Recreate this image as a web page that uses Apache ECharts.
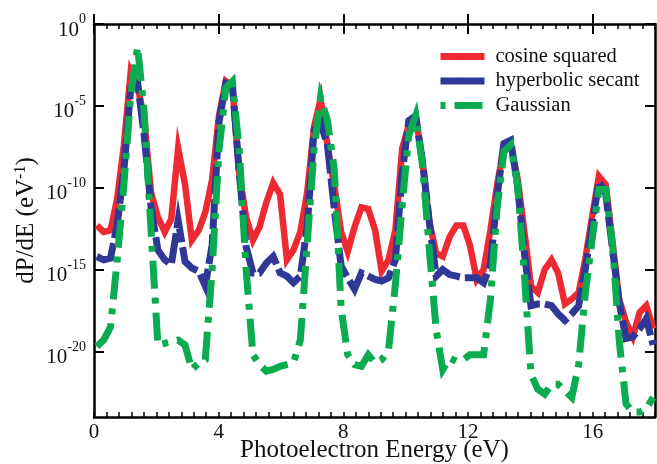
<!DOCTYPE html>
<html>
<head>
<meta charset="utf-8">
<script src="https://cdn.jsdelivr.net/npm/echarts@6/dist/echarts.min.js"></script>
<style>
  html, body { margin: 0; padding: 0; background: #fff; }
  #chart { width: 657px; height: 464px; }
</style>
</head>
<body>
<div id="chart"></div>
<script>
// photoelectron energy grid (eV)
var energy = [
  0.09, 0.31, 0.53, 0.74, 0.96, 1.18, 1.40, 1.61, 1.83, 2.05,
  2.27, 2.48, 2.70, 2.92, 3.14, 3.36, 3.57, 3.79, 4.01, 4.23,
  4.44, 4.66, 4.88, 5.10, 5.31, 5.53, 5.75, 5.97, 6.19, 6.40,
  6.62, 6.84, 7.06, 7.27, 7.49, 7.71, 7.93, 8.14, 8.36, 8.58,
  8.80, 9.02, 9.23, 9.45, 9.67, 9.89, 10.10, 10.32, 10.54, 10.76,
  10.98, 11.19, 11.41, 11.63, 11.85, 12.06, 12.28, 12.50, 12.72, 12.93,
  13.15, 13.37, 13.59, 13.81, 14.02, 14.24, 14.46, 14.68, 14.89, 15.11,
  15.33, 15.55, 15.76, 15.98, 16.20, 16.42, 16.64, 16.85, 17.07, 17.29,
  17.51, 17.72, 17.94
];

// log10 of dP/dE for each pulse envelope
var cosineSquared = [
  -12.3, -12.7, -12.6, -10.7, -7.4, -2.9, -3.8, -5.8, -10.3, -11.8,
  -12.7, -11.9, -7.6, -9.8, -13.2, -12.6, -11.5, -9.5, -5.6, -3.5,
  -3.8, -9.1, -11.8, -13.2, -12.4, -10.9, -9.7, -10.4, -14.4, -13.8,
  -12.7, -10.3, -6.3, -4.6, -7.4, -9.9, -12.7, -13.9, -12.4, -11.2,
  -11.3, -12.6, -15.1, -14.4, -12.6, -7.6, -6.2, -5.6, -8.4, -12.1,
  -14.0, -14.2, -13.0, -12.3, -12.3, -13.5, -15.6, -15.0, -12.6, -9.9,
  -7.5, -7.4, -9.4, -12.7, -16.0, -16.4, -15.0, -14.4, -15.2, -17.1,
  -16.8, -16.4, -14.4, -11.8, -9.3, -9.8, -13.4, -16.8, -18.2, -19.1,
  -17.6, -17.2, -18.6
];

var hyperbolicSecant = [
  -14.2, -14.4, -14.3, -12.3, -8.9, -3.9, -3.6, -6.8, -11.2, -13.8,
  -14.4, -14.7, -12.0, -14.5, -14.9, -15.1, -16.0, -13.5, -6.0, -3.6,
  -3.7, -9.1, -13.6, -15.2, -15.2, -14.6, -14.2, -15.2, -15.4, -15.8,
  -15.4, -12.4, -6.5, -6.0, -7.4, -11.3, -14.8, -15.5, -16.2, -15.2,
  -15.4, -15.6, -15.7, -15.5, -14.4, -9.1, -5.9, -5.6, -8.4, -12.1,
  -15.4, -15.0, -15.3, -15.4, -15.5, -15.5, -15.5, -15.8, -14.7, -10.6,
  -7.3, -7.1, -9.9, -14.0, -17.2, -17.1, -17.1, -17.2, -17.7, -18.1,
  -17.7, -17.2, -15.0, -12.3, -9.6, -10.4, -13.8, -17.0, -19.2, -19.1,
  -18.6, -18.0, -19.6
];

var gaussian = [
  -19.7, -19.3, -18.5, -14.5, -9.8, -4.3, -1.4, -5.4, -12.6, -19.6,
  -19.5, -19.4, -19.3, -19.6, -21.1, -20.7, -20.5, -15.0, -7.7, -3.9,
  -3.5, -7.7, -15.0, -20.2, -20.8, -21.2, -21.1, -20.9, -20.8, -20.7,
  -19.3, -13.4, -7.7, -4.5, -5.9, -8.9, -17.4, -20.2, -20.8, -20.9,
  -20.2, -20.7, -20.5, -19.9, -15.9, -11.0, -6.8, -5.6, -8.6, -13.8,
  -18.7, -21.1, -20.4, -20.6, -20.5, -20.2, -20.2, -20.2, -16.8, -11.3,
  -7.8, -7.4, -9.8, -15.3, -21.4, -22.3, -22.6, -22.0, -22.0, -22.4,
  -22.8, -20.8, -16.5, -13.2, -10.1, -10.1, -13.5, -19.3, -23.2, -23.7,
  -23.7, -23.5, -22.8
];

var seriesNames = ['cosine squared', 'hyperbolic secant', 'Gaussian'];
var xLabelValues = [0, 4, 8, 12, 16];
var yLabelValues = [0, -5, -10, -15, -20];

var font = 'Liberation Serif';
var chart = echarts.init(document.getElementById('chart'));

function pairs(ys) {
  return energy.map(function (x, i) { return [x, ys[i]]; });
}

var axisLine = { show: true, onZero: false, lineStyle: { color: '#000', width: 2.5 } };

var option = {
  backgroundColor: '#fff',
  animation: false,
  grid: { left: 94, right: 2, top: 24, bottom: 47, containLabel: false, outerBoundsMode: 'none' },
  legend: {
    orient: 'vertical',
    left: 432,
    top: 41,
    itemWidth: 44,
    itemHeight: 8,
    itemGap: 3.5,
    lineStyle: { width: 7 },
    textStyle: { fontFamily: font, fontSize: 20.5, color: '#111', lineHeight: 20, padding: [0, 0, 0, 6] },
    data: [
      { name: 'cosine squared' },
      { name: 'hyperbolic secant', lineStyle: { type: 'solid' } },
      { name: 'Gaussian', lineStyle: { dashOffset: 38 } }
    ]
  },
  xAxis: [
    {
      type: 'value', position: 'bottom', min: 0, max: 18, interval: 0.4,
      axisLine: axisLine,
      axisTick: { inside: true, length: 5, lineStyle: { color: '#000', width: 1.5 } },
      axisLabel: {
        customValues: xLabelValues, fontFamily: font, fontSize: 21, color: '#111', margin: 5
      },
      splitLine: { show: false },
      name: 'Photoelectron Energy (eV)', nameLocation: 'middle', nameGap: 21, nameMoveOverlap: false,
      nameTextStyle: { fontFamily: font, fontSize: 25, color: '#111' }
    },
    {
      type: 'value', position: 'bottom', min: 0, max: 18,
      axisLine: { show: false },
      axisTick: { inside: true, length: 10, customValues: xLabelValues, lineStyle: { color: '#000', width: 2 } },
      axisLabel: { show: false }, splitLine: { show: false }
    },
    {
      type: 'value', position: 'top', min: 0, max: 18, interval: 0.4,
      axisLine: axisLine,
      axisTick: { inside: true, length: 5, lineStyle: { color: '#000', width: 1.5 } },
      axisLabel: { show: false }, splitLine: { show: false }
    },
    {
      type: 'value', position: 'top', min: 0, max: 18,
      axisLine: { show: false },
      axisTick: { inside: true, length: 10, customValues: xLabelValues, lineStyle: { color: '#000', width: 2 } },
      axisLabel: { show: false }, splitLine: { show: false }
    }
  ],
  yAxis: [
    {
      type: 'value', position: 'left', min: -24, max: 0,
      axisLine: axisLine,
      axisTick: { inside: true, length: 10, customValues: yLabelValues, lineStyle: { color: '#000', width: 2 } },
      axisLabel: {
        customValues: yLabelValues, margin: 8,
        formatter: function (v) { return '{b|10}{s|' + v + '}'; },
        rich: {
          b: { fontFamily: font, fontSize: 21, lineHeight: 21, color: '#111', padding: [12, 0, 0, 0] },
          s: { fontFamily: font, fontSize: 14, lineHeight: 14, color: '#111', padding: [5, 0, 14, 0] }
        }
      },
      splitLine: { show: false },
      name: 'dP/dE (eV{s|-1})', nameLocation: 'middle', nameGap: 54, nameMoveOverlap: false,
      nameTextStyle: {
        fontFamily: font, fontSize: 25, color: '#111',
        rich: { s: { fontFamily: font, fontSize: 16, color: '#111', padding: [0, 0, 11, 0] } }
      }
    },
    {
      type: 'value', position: 'right', min: -24, max: 0,
      axisLine: axisLine,
      axisTick: { inside: true, length: 10, customValues: yLabelValues, lineStyle: { color: '#000', width: 2 } },
      axisLabel: { show: false }, splitLine: { show: false }
    }
  ],
  series: [
    {
      name: seriesNames[0], type: 'line', symbol: 'none', data: pairs(cosineSquared),
      lineStyle: { color: '#ed2a31', width: 6.5, join: 'miter', cap: 'butt' },
      itemStyle: { color: '#ed2a31' }
    },
    {
      name: seriesNames[1], type: 'line', symbol: 'none', data: pairs(hyperbolicSecant),
      lineStyle: { color: '#2f3896', width: 7, type: [30, 5], join: 'miter', cap: 'butt' },
      itemStyle: { color: '#2f3896' }
    },
    {
      name: seriesNames[2], type: 'line', symbol: 'none', data: pairs(gaussian),
      lineStyle: { color: '#0bab4f', width: 7, type: [28, 9, 6, 9], join: 'miter', cap: 'butt' },
      itemStyle: { color: '#0bab4f' }
    }
  ]
};

chart.setOption(option);
</script>
</body>
</html>
